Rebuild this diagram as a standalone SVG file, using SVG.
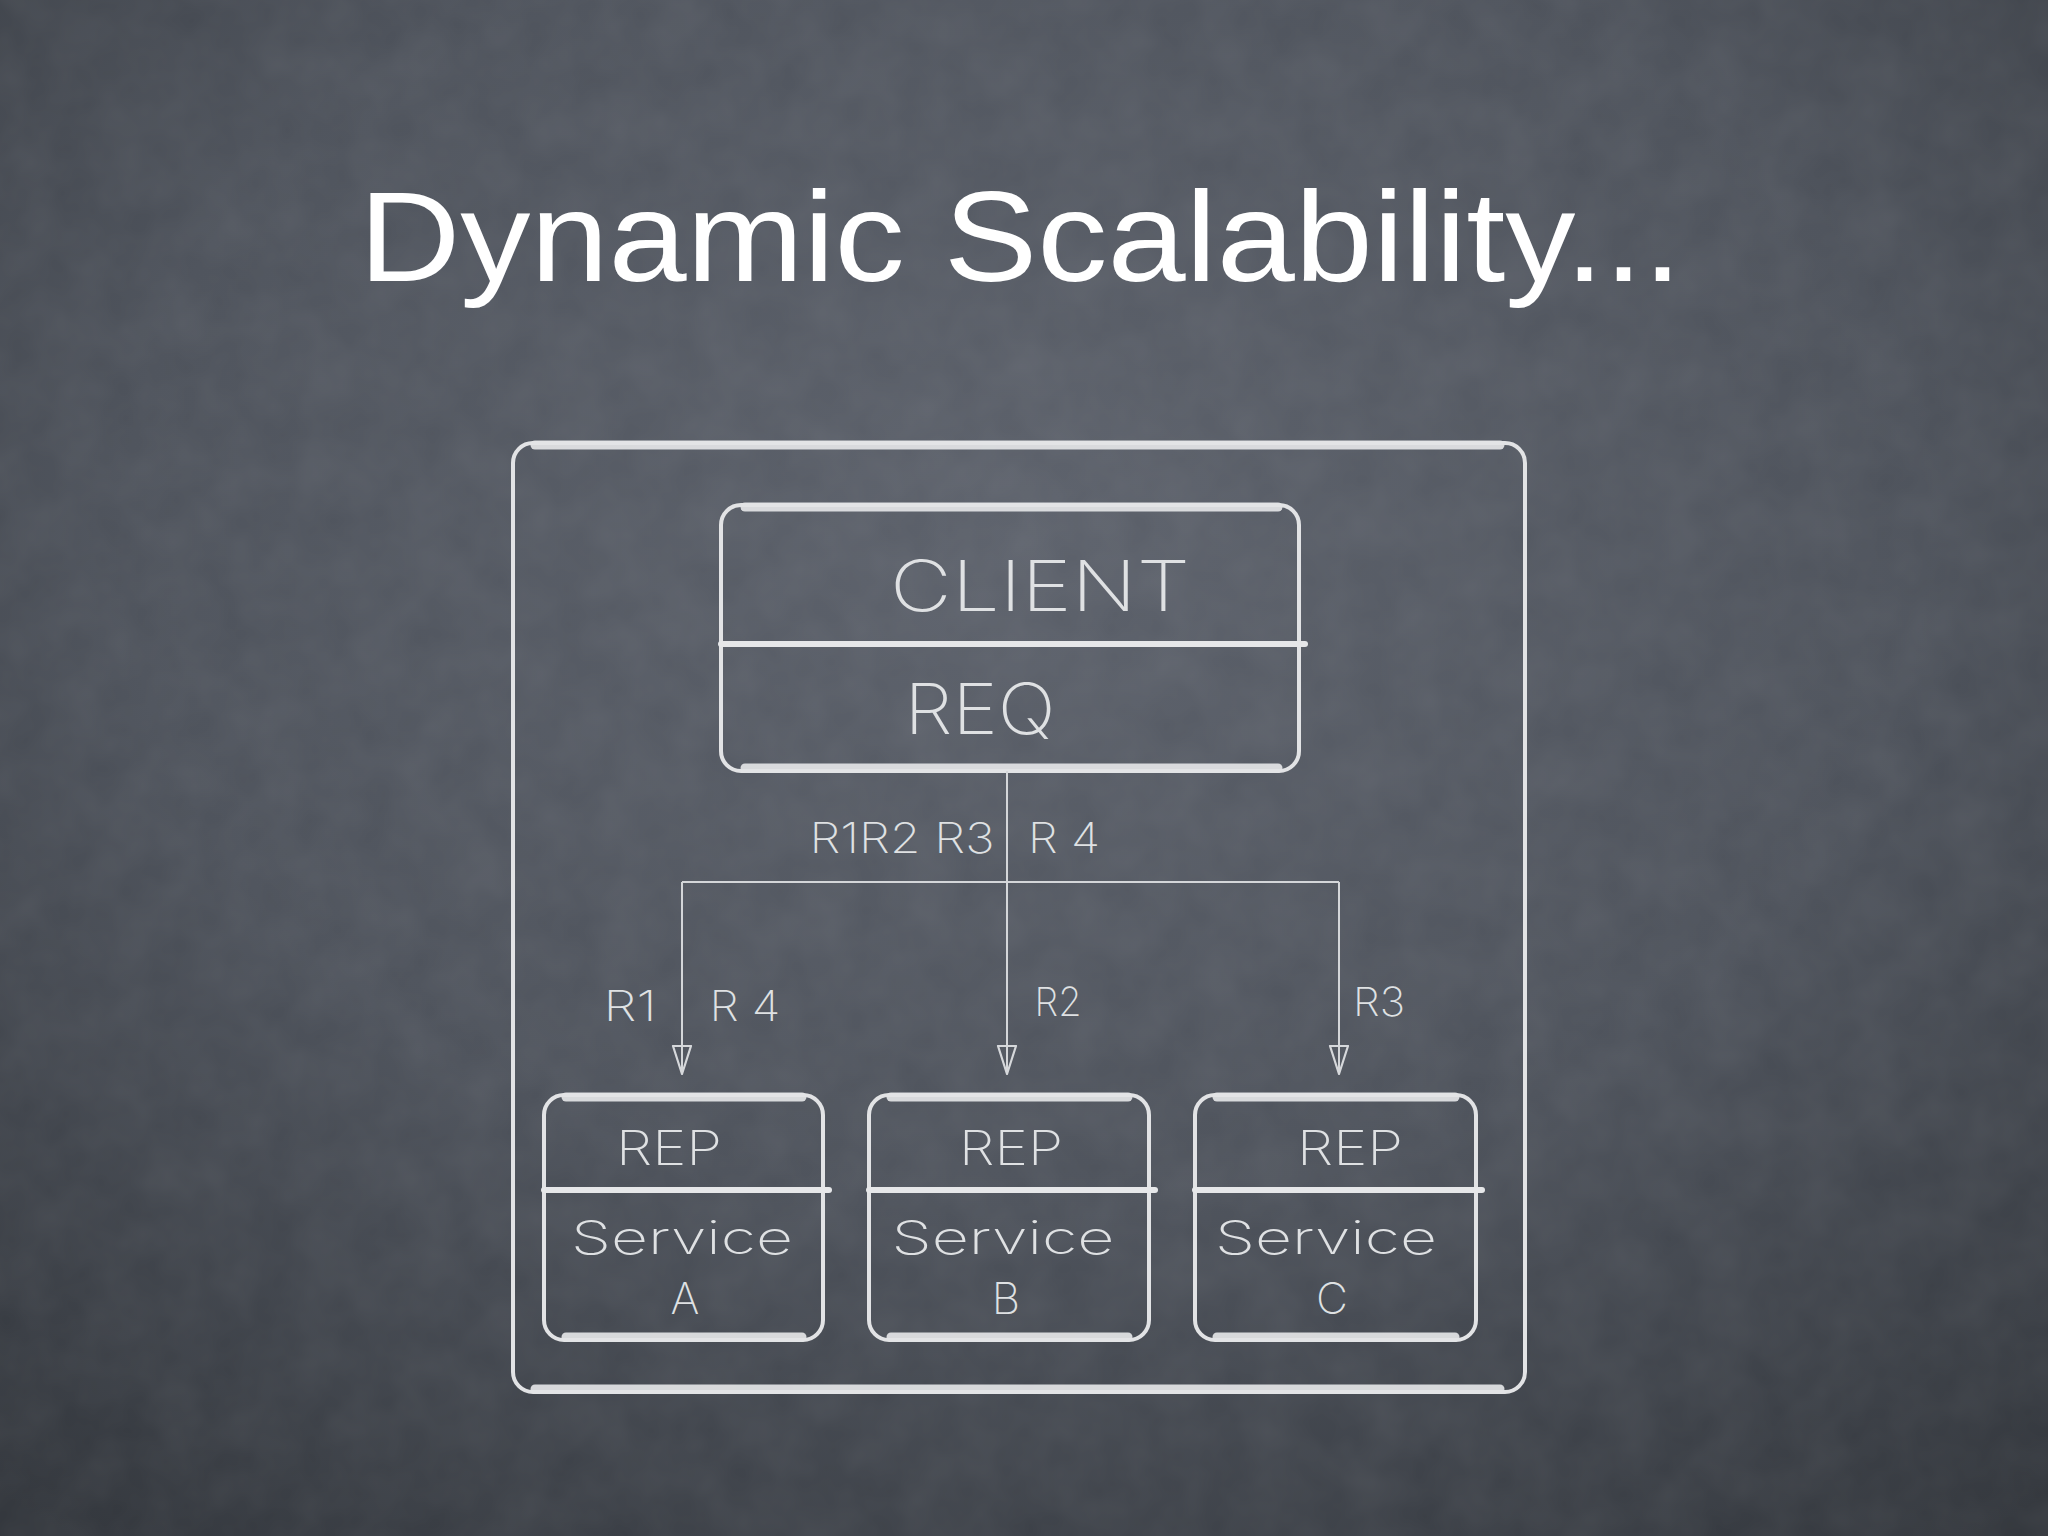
<svg xmlns="http://www.w3.org/2000/svg" width="2048" height="1536" viewBox="0 0 2048 1536">
  <defs>
    <radialGradient id="bg" cx="0.5" cy="0.35" r="0.8">
      <stop offset="0" stop-color="#5b606a"/>
      <stop offset="0.55" stop-color="#4c515a"/>
      <stop offset="1" stop-color="#30343a"/>
    </radialGradient>
    <filter id="chalk" x="0" y="0" width="100%" height="100%">
      <feTurbulence type="fractalNoise" baseFrequency="0.02 0.02" numOctaves="3" seed="7"/>
      <feColorMatrix type="matrix" values="0 0 0 0 1  0 0 0 0 1  0 0 0 0 1  0 0 0 0.07 0"/>
    </filter>
    <marker id="arrow" viewBox="0 0 30 24" refX="29" refY="12" markerWidth="30" markerHeight="24" markerUnits="userSpaceOnUse" orient="auto">
      <path d="M1,3 L29,12 L1,21 Z" fill="none" stroke="#d6d8db" stroke-width="2.2" stroke-linejoin="round"/>
    </marker>
    <style>
      .box { fill: none; stroke: #e2e3e5; stroke-width: 4; }
      .edge { stroke: #e4e5e7; stroke-width: 9; stroke-linecap: round; opacity: 0.92; }
      .div { stroke: #e6e7e9; stroke-width: 6; stroke-linecap: round; }
      .wire { fill: none; stroke: #d4d6d9; stroke-width: 2; }
      .hand { font-family: "Inter", "Open Sans", "DejaVu Sans", sans-serif; font-weight: 200; fill: #dfe1e3; text-anchor: middle; }
      .title { font-family: "Liberation Sans", "DejaVu Sans", sans-serif; fill: #ffffff; }
    </style>
  </defs>

  <rect width="2048" height="1536" fill="url(#bg)"/>
  <rect width="2048" height="1536" filter="url(#chalk)"/>

  <g id="title">
    <text class="title" x="359" y="281" font-size="128" textLength="1323" lengthAdjust="spacingAndGlyphs">Dynamic Scalability...</text>
  </g>

  <g id="container">
    <rect class="box" x="513" y="443" width="1012" height="949" rx="20"/>
    <line class="edge" x1="535" y1="445" x2="1500" y2="445"/>
    <line class="edge" x1="535" y1="1389" x2="1500" y2="1389"/>
  </g>

  <g id="client">
    <rect class="box" x="721" y="505" width="578" height="266" rx="20"/>
    <line class="edge" x1="745" y1="507" x2="1278" y2="507"/>
    <line class="edge" x1="745" y1="768" x2="1278" y2="768"/>
    <line class="div" x1="721" y1="644" x2="1305" y2="644"/>
    <text class="hand" x="1040" y="611" font-size="70" textLength="300" lengthAdjust="spacingAndGlyphs">CLIENT</text>
    <text class="hand" x="980" y="734" font-size="70" textLength="151" lengthAdjust="spacingAndGlyphs">REQ</text>
  </g>

  <g id="connectors">
    <line class="wire" x1="1007" y1="771" x2="1007" y2="1074" marker-end="url(#arrow)"/>
    <line class="wire" x1="682" y1="882" x2="1339" y2="882"/>
    <line class="wire" x1="682" y1="882" x2="682" y2="1074" marker-end="url(#arrow)"/>
    <line class="wire" x1="1339" y1="882" x2="1339" y2="1074" marker-end="url(#arrow)"/>
    <text class="hand" x="902" y="853" font-size="42" textLength="185" lengthAdjust="spacingAndGlyphs">R1R2 R3</text>
    <text class="hand" x="1064" y="853" font-size="42" textLength="72" lengthAdjust="spacingAndGlyphs">R 4</text>
    <text class="hand" x="630" y="1021" font-size="42" textLength="53" lengthAdjust="spacingAndGlyphs">R1</text>
    <text class="hand" x="745" y="1021" font-size="42" textLength="71" lengthAdjust="spacingAndGlyphs">R 4</text>
    <text class="hand" x="1058" y="1016" font-size="40" textLength="47" lengthAdjust="spacingAndGlyphs">R2</text>
    <text class="hand" x="1379" y="1016" font-size="40" textLength="52" lengthAdjust="spacingAndGlyphs">R3</text>
  </g>

  <g id="service-a">
    <rect class="box" x="544" y="1095" width="279" height="245" rx="20"/>
    <line class="edge" x1="566" y1="1097" x2="802" y2="1097"/>
    <line class="edge" x1="566" y1="1337" x2="802" y2="1337"/>
    <line class="div" x1="544" y1="1190" x2="829" y2="1190"/>
    <text class="hand" x="669" y="1165" font-size="48" textLength="106" lengthAdjust="spacingAndGlyphs">REP</text>
    <text class="hand" x="682" y="1254" font-size="46" textLength="222" lengthAdjust="spacingAndGlyphs">Service</text>
    <text class="hand" x="685" y="1314" font-size="44">A</text>
  </g>

  <g id="service-b">
    <rect class="box" x="869" y="1095" width="280" height="245" rx="20"/>
    <line class="edge" x1="891" y1="1097" x2="1128" y2="1097"/>
    <line class="edge" x1="891" y1="1337" x2="1128" y2="1337"/>
    <line class="div" x1="869" y1="1190" x2="1155" y2="1190"/>
    <text class="hand" x="1011" y="1165" font-size="48" textLength="104" lengthAdjust="spacingAndGlyphs">REP</text>
    <text class="hand" x="1003" y="1254" font-size="46" textLength="223" lengthAdjust="spacingAndGlyphs">Service</text>
    <text class="hand" x="1006" y="1314" font-size="44">B</text>
  </g>

  <g id="service-c">
    <rect class="box" x="1195" y="1095" width="281" height="245" rx="20"/>
    <line class="edge" x1="1217" y1="1097" x2="1455" y2="1097"/>
    <line class="edge" x1="1217" y1="1337" x2="1455" y2="1337"/>
    <line class="div" x1="1195" y1="1190" x2="1482" y2="1190"/>
    <text class="hand" x="1350" y="1165" font-size="48" textLength="106" lengthAdjust="spacingAndGlyphs">REP</text>
    <text class="hand" x="1326" y="1254" font-size="46" textLength="222" lengthAdjust="spacingAndGlyphs">Service</text>
    <text class="hand" x="1332" y="1314" font-size="44">C</text>
  </g>
</svg>
